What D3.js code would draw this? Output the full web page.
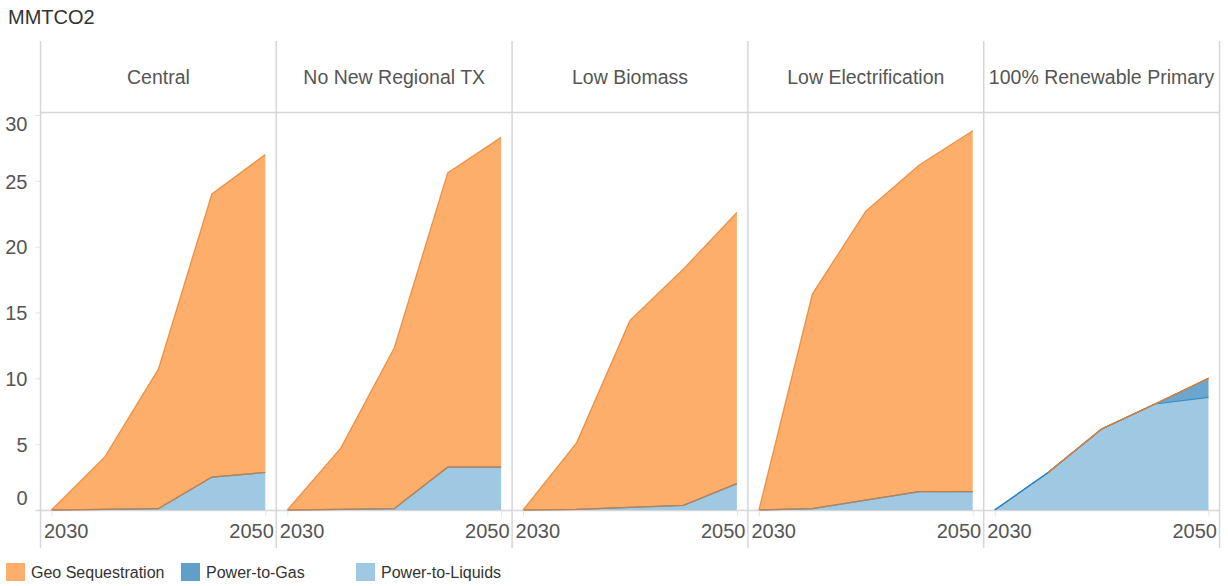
<!DOCTYPE html>
<html><head><meta charset="utf-8">
<script src="https://cdn.jsdelivr.net/npm/d3@7"></script>
<style>body{margin:0;background:#fff} svg{display:block;font-family:"Liberation Sans",Arial,Helvetica,sans-serif}</style>
</head><body><svg id="c" width="1228" height="586"></svg>
<script>
// ---- data ----
const unitLabel = "MMTCO2";
const years = [2030, 2035, 2040, 2045, 2050];
const scenarios = ["Central", "No New Regional TX", "Low Biomass", "Low Electrification", "100% Renewable Primary"];
const seriesNames = ["Geo Sequestration", "Power-to-Gas", "Power-to-Liquids"];
const geoSequestration = [
  [0, 4.0, 10.6, 21.5, 24.15],
  [0, 4.65, 12.2, 22.35, 25.05],
  [0, 5.05, 14.2, 17.95, 20.6],
  [0, 16.3, 21.95, 24.8, 27.4],
  [null, 0, 0, 0, 0]
];
const powerToGas = [
  [0, 0, 0, 0, 0],
  [0, 0, 0, 0, 0],
  [0, 0, 0, 0, 0],
  [0, 0, 0, 0, 0],
  [0, 0, 0, 0, 1.45]
];
const powerToLiquids = [
  [0, 0.05, 0.1, 2.5, 2.85],
  [0, 0.05, 0.1, 3.25, 3.25],
  [0, 0.05, 0.2, 0.35, 2.0],
  [0, 0.1, 0.75, 1.4, 1.4],
  [0, 2.85, 6.15, 8.05, 8.55]
];
const yTicks = [0, 5, 10, 15, 20, 25, 30];
const xTickLabels = [2030, 2050];

// ---- styles ----
const fills = {"Geo Sequestration": "#fdae6b", "Power-to-Gas": "#6aa6cf", "Power-to-Liquids": "#9fc8e2"};
const legendFills = {"Geo Sequestration": "#fdae6b", "Power-to-Gas": "#5f9fca", "Power-to-Liquids": "#9fc8e2"};
const strokes = {"Geo Sequestration": "#e57d28", "Power-to-Gas": "#2f80ba", "Power-to-Liquids": "#3a8cc4"};
const gridColor = "#d6d6d6";
const textColor = "#555";

const svg = d3.select("#c");
const left = 40.5, right = 1219.5, bandTop = 41, bandBottom = 112.5, axisY = 510, lineBottom = 548;
const panelW = (right - left) / scenarios.length;
const y = d3.scaleLinear().domain([0, 30]).range([axisY, 115]);

// title
svg.append("text").attr("x", 8).attr("y", 24).attr("font-size", 20).attr("fill", "#333").text(unitLabel);

// y axis
const yAxis = svg.append("g").attr("transform", `translate(${left},0)`)
  .call(d3.axisLeft(y).tickValues(yTicks).tickSize(5).tickPadding(8).tickFormat(d3.format("d")));
yAxis.select(".domain").remove();
yAxis.selectAll(".tick line").attr("stroke", "#e2e2e2");
yAxis.selectAll(".tick text").attr("font-size", 20).attr("fill", textColor).attr("font-family", "Liberation Sans, Arial, sans-serif")
  .attr("dy", d => d === 30 ? "0.75em" : d === 0 ? "-0.28em" : "0.36em");

// frame lines
svg.append("line").attr("x1", left).attr("x2", right).attr("y1", bandBottom).attr("y2", bandBottom).attr("stroke", gridColor).attr("stroke-width", 1.5);
svg.append("line").attr("x1", left - 5).attr("x2", right).attr("y1", axisY + 0.5).attr("y2", axisY + 0.5).attr("stroke", gridColor).attr("stroke-width", 1.5);
for (let i = 0; i <= scenarios.length; i++) {
  const xx = left + i * panelW;
  svg.append("line").attr("x1", xx).attr("x2", xx).attr("y1", bandTop).attr("y2", lineBottom).attr("stroke", gridColor).attr("stroke-width", 1.5);
}

const order = ["Power-to-Liquids", "Power-to-Gas", "Geo Sequestration"];

scenarios.forEach((name, i) => {
  const x0 = left + i * panelW, x1 = x0 + panelW;
  const x = d3.scaleLinear().domain([years[0], years[years.length - 1]]).range([x0 + 11, x1 - 11]);
  const rows = years.map((yr, j) => ({
    year: yr,
    "Geo Sequestration": geoSequestration[i][j],
    "Power-to-Gas": powerToGas[i][j],
    "Power-to-Liquids": powerToLiquids[i][j]
  }));
  const stacked = d3.stack().keys(order).value((d, k) => d[k] == null ? 0 : d[k])(rows);
  const g = svg.append("g");

  // header
  g.append("text").attr("x", (x0 + x1) / 2).attr("y", 84).attr("text-anchor", "middle")
    .attr("font-size", 19.5).attr("fill", textColor).text(name);

  stacked.forEach(s => {
    const key = s.key;
    const def = d => d.data[key] != null;
    g.append("path").datum(s).attr("fill", fills[key])
      .attr("d", d3.area().defined(def).x(d => x(d.data.year)).y0(d => y(d[0])).y1(d => y(d[1])));
  });
  // strokes
  const lineTop = (key, s) => d3.line().defined(d => d.data[key] != null).x(d => x(d.data.year)).y(d => y(d[1]))(s);
  const lineBot = (key, s) => d3.line().defined(d => d.data[key] != null).x(d => x(d.data.year)).y(d => y(d[0]))(s);
  stacked.forEach(s => {
    const key = s.key;
    if (key === "Geo Sequestration") {
      g.append("path").attr("d", lineBot(key, s)).attr("fill", "none").attr("stroke", strokes[key]).attr("stroke-opacity", 0.75).attr("stroke-width", 1.3);
      g.append("path").attr("d", lineTop(key, s)).attr("fill", "none").attr("stroke", strokes[key]).attr("stroke-opacity", 0.75).attr("stroke-width", 1.3);
    } else {
      const hasVals = s.some(d => d[1] - d[0] > 0);
      if (hasVals) g.append("path").attr("d", lineTop(key, s)).attr("fill", "none").attr("stroke", strokes[key]).attr("stroke-width", 1.2);
    }
  });

  // x axis
  const xa = g.append("g").attr("transform", `translate(0,${axisY + 0.5})`)
    .call(d3.axisBottom(x).tickValues(xTickLabels).tickSize(6).tickPadding(6).tickFormat(d3.format("d")));
  xa.select(".domain").remove();
  xa.selectAll(".tick line").attr("stroke", "#e4e4e4");
  xa.selectAll(".tick text").attr("font-size", 20).attr("fill", textColor).attr("font-family", "Liberation Sans, Arial, sans-serif")
    .attr("text-anchor", (d, k) => k === 0 ? "start" : "end")
    .attr("x", d => d === xTickLabels[0] ? (x0 + 3 - x(d)) : (x1 - 3 - x(d)))
    .attr("y", 0).attr("dy", "27");
});

// legend
const legendX = [6, 181, 356];
const leg = svg.append("g");
seriesNames.forEach((k, i) => {
  leg.append("rect").attr("x", legendX[i]).attr("y", 563).attr("width", 19).attr("height", 18).attr("fill", legendFills[k]);
  leg.append("text").attr("x", legendX[i] + 25).attr("y", 578).attr("font-size", 16).attr("fill", "#333").text(k);
});
</script>
</body></html>
